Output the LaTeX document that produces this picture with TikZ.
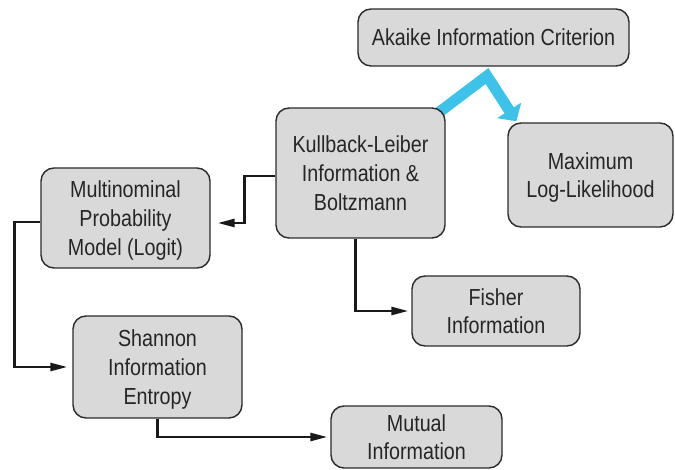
\documentclass[tikz,border=0pt]{standalone}
\usepackage{fontspec}
\setmainfont[FakeStretch=0.85]{Liberation Sans}
\usetikzlibrary{arrows.meta,calc,backgrounds}
\definecolor{boxfill}{HTML}{D9D9D9}
\definecolor{boxline}{HTML}{2B2B2B}
\definecolor{aicblue}{HTML}{3DC3EA}
\begin{document}
\begin{tikzpicture}[x=1pt,y=-1pt,
  concept/.style={draw=boxline, line width=1.4pt, fill=boxfill,
    rounded corners=13pt, align=center, text=black!85, inner sep=0pt,
    text depth=-3pt, font=\fontsize{23.2}{28.8}\selectfont},
  conn/.style={line width=2.6pt, draw=black!90,
    -{Triangle[length=17pt,width=8pt]}, shorten >=3pt},
  bluelink/.style={draw=aicblue, line width=11pt,
    -{Triangle[length=13pt,width=28pt]}}]
\useasboundingbox (0,0) rectangle (675,470);

% concept boxes
\node[concept, minimum width=271pt, minimum height=57pt] (aic) at (493.5,37.5)
  {Akaike Information Criterion};
\node[concept, minimum width=165pt, minimum height=104pt] (mml) at (590.5,175)
  {Maximum\\Log-Likelihood};
\node[concept, minimum width=169pt, minimum height=130pt] (kl) at (360.5,173)
  {Kullback-Leiber\\Information \&\\Boltzmann};
\node[concept, minimum width=169pt, minimum height=100pt] (mpm) at (125.5,218)
  {Multinominal\\Probability\\Model (Logit)};
\node[concept, minimum width=168pt, minimum height=70pt] (fi) at (496,311)
  {Fisher\\Information};
\node[concept, minimum width=169pt, minimum height=102pt] (sie) at (157.5,367)
  {Shannon\\Information\\Entropy};
\node[concept, minimum width=171pt, minimum height=62pt] (mi) at (416.5,437)
  {Mutual\\Information};

% thick link from the AIC box to KL and maximum likelihood
\coordinate (b0) at ($(kl.north east)+(-8,6)$);
\coordinate (apex) at (487,76);
\coordinate (b1) at ($(mml.north west)+(9,-1)$);
\begin{scope}[on background layer]
  \draw[bluelink] (b0) -- (apex) -- (b1);
\end{scope}

% elbow connectors
\draw[conn, shorten >=7pt] ($(kl.west)+(0,3)$) -- ++(-31,0) |- ($(mpm.east)+(0,5)$);
\draw[conn, shorten >=5pt] ($(mpm.west)+(0,4)$) -- ++(-26,0) |- (sie.west);
\draw[conn] ($(kl.south)+(-5,0)$) |- (fi.west);
\draw[conn] (sie.south) |- (mi.west);
\end{tikzpicture}
\end{document}
